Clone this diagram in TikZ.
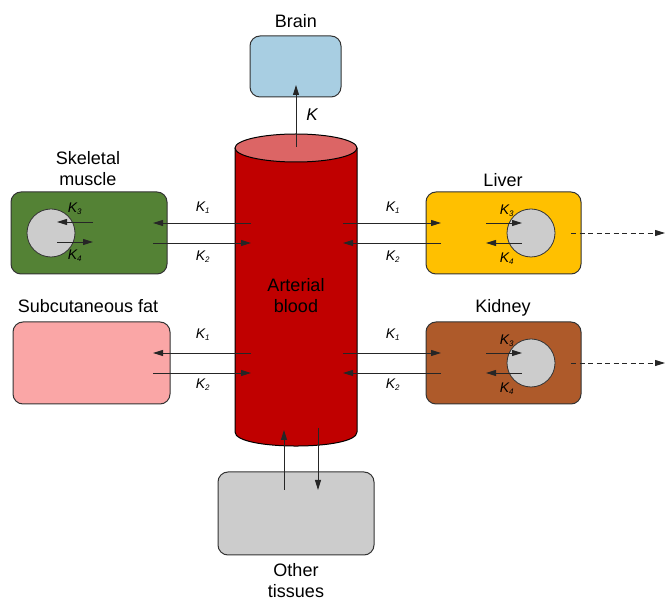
\documentclass[tikz,border=0pt]{standalone}
\usepackage{fontspec}
\setmainfont{Liberation Sans}
\usetikzlibrary{arrows.meta}
\definecolor{musclegreen}{HTML}{548235}
\definecolor{fatpink}{HTML}{FAA6A6}
\definecolor{livergold}{HTML}{FFC000}
\definecolor{kidneybrown}{HTML}{AE5A2A}
\definecolor{brainblue}{HTML}{A8CEE2}
\definecolor{tissuegray}{HTML}{CCCCCC}
\definecolor{bloodred}{HTML}{C00000}
\definecolor{bloodtop}{HTML}{DC6565}
\definecolor{edgegray}{HTML}{333333}
\tikzset{
  organ/.style={draw=edgegray, line width=1pt, rounded corners=10pt, minimum width=#1, minimum height=82pt, inner sep=0pt},
  organ/.default=156pt,
  nucleus/.style={circle, draw=edgegray, line width=0.8pt, fill=tissuegray, minimum size=48pt, inner sep=0pt},
  flow/.style={line width=0.9pt, draw=black!85, -{Triangle[length=10pt,width=6pt]}},
  klab/.style={font=\fontsize{14}{14}\selectfont\itshape, inner sep=0pt},
  title/.style={font=\fontsize{18}{21}\selectfont, align=center, inner sep=0pt},
}
\newcommand{\Ksub}[1]{K\textsubscript{\fontsize{8}{8}\selectfont #1}}
\begin{document}
\begin{tikzpicture}[x=1pt, y=-1pt]
\useasboundingbox (0,0) rectangle (665,601);

% Organ boxes
\node[organ=91pt, minimum height=61pt, fill=brainblue] (brain) at (295.5,66.5) {};
\node[title] (brainlab) at (296,21) {Brain};

\node[organ, fill=musclegreen] (muscle) at (89,233) {};
\node[title] (musclelab) at (88,169) {Skeletal\\muscle};

\node[organ=157pt, fill=fatpink] (fat) at (91.5,363) {};
\node[title] (fatlab) at (88,306) {Subcutaneous fat};

\node[organ=155pt, fill=livergold] (liver) at (503.5,233) {};
\node[title] (liverlab) at (503,180) {Liver};

\node[organ=155pt, fill=kidneybrown] (kidney) at (503.5,363) {};
\node[title] (kidneylab) at (503,308) {Kidney};

\node[organ=156pt, minimum height=83pt, fill=tissuegray] (other) at (296,513.5) {};
\node[title] (otherlab) at (296,581) {Other\\tissues};

% Nuclei
\node[nucleus] (mnuc) at (51,233) {};
\node[nucleus] (lnuc) at (531,233) {};
\node[nucleus] (knuc) at (531,363) {};

% Arterial blood cylinder
\fill[bloodred] (235,148) -- (235,432) .. controls (235,450.7) and (357,450.7) .. (357,432) -- (357,148) -- cycle;
\draw[black, line width=1pt] (235,148) -- (235,432) .. controls (235,450.7) and (357,450.7) .. (357,432) -- (357,148);
\draw[black, line width=1pt, fill=bloodtop] (296,148) ellipse [x radius=61pt, y radius=14pt];
\node[title] (blood) at (296,296) {Arterial\\blood};

% Named end points
\coordinate (bt) at (296,147);
\coordinate (bb) at (296,85);
\foreach \y/\n in {223/a,243/b,353/c,373/d} {
  \coordinate (cl\n) at (251,\y);
  \coordinate (ol\n) at (153,\y);
  \coordinate (cr\n) at (343,\y);
  \coordinate (or\n) at (441,\y);
}
\coordinate (m3s) at (93,222); \coordinate (m3e) at (57,222);
\coordinate (m4s) at (57,242); \coordinate (m4e) at (93,242);
\coordinate (l3s) at (486,223); \coordinate (l3e) at (522,223);
\coordinate (l4s) at (522,243); \coordinate (l4e) at (486,243);
\coordinate (k3s) at (486,353); \coordinate (k3e) at (522,353);
\coordinate (k4s) at (522,373); \coordinate (k4e) at (486,373);
\coordinate (ldash) at (571,233); \coordinate (lout) at (665,233);
\coordinate (kdash) at (571,363); \coordinate (kout) at (665,363);
\coordinate (oup1) at (284,490); \coordinate (oup2) at (284,430);
\coordinate (odn1) at (318,428); \coordinate (odn2) at (318,490);

% Brain flow
\draw[flow] (bt) -- (bb);
\node[klab, font=\fontsize{17}{17}\selectfont\itshape] (kbrain) at (312,115) {K};

% Left exchanges
\draw[flow] (cla) -- (ola);
\draw[flow] (olb) -- (clb);
\draw[flow] (clc) -- (olc);
\draw[flow] (old) -- (cld);
\node[klab] at (203,208) {\Ksub{1}};
\node[klab] at (203,257) {\Ksub{2}};
\node[klab] at (203,335) {\Ksub{1}};
\node[klab] at (203,385) {\Ksub{2}};

% Right exchanges
\draw[flow] (cra) -- (ora);
\draw[flow] (orb) -- (crb);
\draw[flow] (crc) -- (orc);
\draw[flow] (ord) -- (crd);
\node[klab] at (393,208) {\Ksub{1}};
\node[klab] at (393,257) {\Ksub{2}};
\node[klab] at (393,335) {\Ksub{1}};
\node[klab] at (393,385) {\Ksub{2}};

% Intracellular
\draw[flow] (m3s) -- (m3e);
\draw[flow] (m4s) -- (m4e);
\node[klab] at (75,209) {\Ksub{3}};
\node[klab] at (75,256) {\Ksub{4}};
\draw[flow] (l3s) -- (l3e);
\draw[flow] (l4s) -- (l4e);
\node[klab] at (507,211) {\Ksub{3}};
\node[klab] at (507,259) {\Ksub{4}};
\draw[flow] (k3s) -- (k3e);
\draw[flow] (k4s) -- (k4e);
\node[klab] at (507,341) {\Ksub{3}};
\node[klab] at (507,389) {\Ksub{4}};

% Excretion
\draw[flow, dash pattern=on 5pt off 3.5pt] (ldash) -- (lout);
\draw[flow, dash pattern=on 5pt off 3.5pt] (kdash) -- (kout);

% Other tissues
\draw[flow] (oup1) -- (oup2);
\draw[flow] (odn1) -- (odn2);
\end{tikzpicture}
\end{document}
